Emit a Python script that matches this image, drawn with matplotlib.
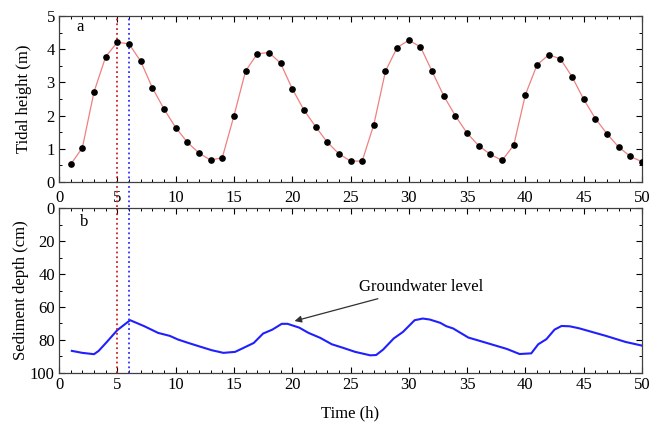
import matplotlib
matplotlib.use("Agg")
import matplotlib.pyplot as plt
from matplotlib.ticker import MultipleLocator

plt.rcParams['font.family'] = ['Liberation Serif', 'DejaVu Serif']

# tidal height, hourly (m)
hours = list(range(1, 51))
tide = [0.53, 1.03, 2.71, 3.77, 4.21, 4.16, 3.64, 2.84, 2.20, 1.64,
        1.20, 0.87, 0.66, 0.73, 1.99, 3.34, 3.86, 3.90, 3.58, 2.81,
        2.17, 1.67, 1.20, 0.85, 0.63, 0.63, 1.73, 3.34, 4.05, 4.27,
        4.07, 3.33, 2.59, 1.99, 1.47, 1.09, 0.83, 0.65, 1.11, 2.63,
        3.53, 3.83, 3.71, 3.17, 2.49, 1.91, 1.45, 1.05, 0.77, 0.61]

# groundwater level (cm below surface)
gw_t = [1.1, 2.0, 3.0, 3.4, 4.1, 5.0, 6.1, 7.3, 8.5, 9.5, 10.2, 11.1, 12.0,
        13.1, 14.1, 15.1, 15.7, 16.7, 17.5, 18.3, 19.1, 19.6, 20.6, 21.4,
        22.4, 23.4, 24.3, 25.4, 26.7, 27.2, 27.8, 28.7, 29.5, 30.5, 31.2,
        31.8, 32.7, 33.2, 33.8, 35.1, 36.4, 38.4, 39.5, 40.5, 41.1, 41.8,
        42.5, 43.1, 43.8, 44.6, 46.9, 48.6, 50.0]
gw_depth = [86.6, 87.8, 88.6, 86.6, 81.2, 74.0, 68.0, 71.6, 75.7, 77.5, 79.7,
            81.8, 83.8, 86.2, 87.8, 87.2, 85.2, 81.8, 76.1, 73.7, 70.2, 70.2,
            72.5, 75.7, 78.7, 82.6, 84.6, 87.2, 89.3, 89.1, 85.8, 79.1, 75.1,
            68.0, 67.0, 67.6, 69.6, 71.6, 73.0, 78.5, 81.2, 85.4, 88.5, 88.1,
            82.6, 79.5, 73.7, 71.5, 71.7, 72.9, 77.5, 81.2, 83.4]

fig = plt.figure(figsize=(6.5, 4.24), dpi=100)
ax1 = fig.add_axes([0.0908, 0.5708, 0.8969, 0.3915])
ax2 = fig.add_axes([0.0908, 0.1203, 0.8969, 0.3891])

# a: tide
ax1.plot(hours, tide, color='#f08080', lw=0.9, zorder=2)
ax1.plot(hours, tide, 'o', color='black', ms=3.8, zorder=3)
ax1.set_xlim(0, 50)
ax1.set_ylim(0, 5)
ax1.set_ylabel('Tidal height (m)', fontsize=12)
ax1.text(1.5, 4.55, 'a', fontsize=12)

# b: groundwater
ax2.plot(gw_t, gw_depth, color='#2020ff', lw=1.5)
ax2.set_xlim(0, 50)
ax2.set_ylim(100, 0)
ax2.set_ylabel('Sediment depth (cm)', fontsize=12)
ax2.set_xlabel('Time (h)', fontsize=12, labelpad=9)
ax2.text(1.8, 11, 'b', fontsize=12)
ax2.annotate('Groundwater level', xy=(20.2, 68.5), xytext=(25.7, 48),
             fontsize=12, va='center',
             arrowprops=dict(arrowstyle='-|>', color='#303030', lw=0.9,
                             mutation_scale=10, shrinkA=2, shrinkB=0))

for ax in (ax1, ax2):
    ax.xaxis.set_major_locator(MultipleLocator(5))
    ax.xaxis.set_minor_locator(MultipleLocator(1))
    ax.tick_params(which='both', direction='in', top=True, right=True,
                   labelsize=12, pad=3)
    ax.tick_params(which='major', length=4, width=0.8)
    ax.tick_params(which='minor', length=2.5, width=0.7)
    for s in ax.spines.values():
        s.set_linewidth(0.9)
        s.set_color('#404040')

ax1.tick_params(axis='x', which='major', pad=6)

ax1.yaxis.set_major_locator(MultipleLocator(1))
ax1.yaxis.set_minor_locator(MultipleLocator(0.5))
ax2.yaxis.set_major_locator(MultipleLocator(20))
ax2.yaxis.set_minor_locator(MultipleLocator(10))

# marker lines at high tide
ax1.axvline(5, ymin=-0.15, ymax=1, color='#d42020', ls=':', lw=1.3, clip_on=False)
ax1.axvline(6, ymin=-0.15, ymax=1, color='#3030ff', ls=':', lw=1.3, clip_on=False)
ax2.axvline(5, color='#d42020', ls=':', lw=1.3)
ax2.axvline(6, color='#3030ff', ls=':', lw=1.3)

ax1.yaxis.set_label_coords(-0.047, 0.5)
ax2.yaxis.set_label_coords(-0.051, 0.5)

fig.savefig('out.png', dpi=100)
